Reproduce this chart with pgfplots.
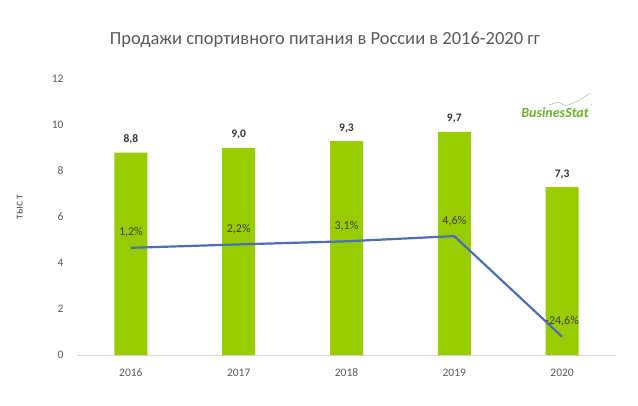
\documentclass[border=0pt]{standalone}
\usepackage{pgfplots}
\pgfplotsset{compat=1.18}
\usepackage{fontspec}
\setmainfont{Carlito}
\definecolor{bargreen}{HTML}{99CC00}
\definecolor{lineblue}{HTML}{4A6FB5}
\definecolor{txtgray}{HTML}{595959}
\definecolor{axgray}{HTML}{D9D9D9}
\definecolor{logogreen}{HTML}{6EB02E}
\begin{document}
\begin{tikzpicture}
\useasboundingbox (-77bp,-51bp) rectangle (561bp,355bp);
\pgfplotsset{base/.style={scale only axis, width=539bp, height=276bp,
  xmin=-0.5, xmax=4.5, /pgf/number format/assume math mode=true}}
\begin{axis}[base,
  ymin=0, ymax=12, ytick={0,2,...,12},
  xtick={0,1,2,3,4}, xticklabels={2016,2017,2018,2019,2020},
  axis x line*=bottom, axis y line*=left,
  x axis line style={draw=axgray, line width=0.8bp, -},
  y axis line style={draw=none},
  major tick length=0pt,
  tick label style={font=\fontsize{11.5bp}{13bp}\selectfont, text=txtgray},
  yticklabel style={xshift=-10bp},
  xticklabel style={yshift=-10bp, text height=8bp, text depth=0bp},
  title={Продажи спортивного питания в России в 2016-2020 гг},
  title style={at={(rel axis cs:0.46,1.12)}, anchor=center,
    font=\fontsize{18.5bp}{21bp}\selectfont, text=txtgray},
  ylabel={тыс т},
  every axis y label/.style={at={(rel axis cs:-0.106,0.536)}, rotate=90, anchor=center,
    font=\fontsize{12bp}{14bp}\selectfont, text=txtgray},
]
\addplot[ybar, bar width=33bp, fill=bargreen, draw=none,
  nodes near coords={\pgfmathprintnumber[fixed,fixed zerofill,precision=1,use comma]{\pgfplotspointmeta}},
  nodes near coords style={font=\fontsize{11.5bp}{13bp}\selectfont\bfseries, text=black!80, yshift=5bp}]
  coordinates {(0,8.8) (1,9.0) (2,9.3) (3,9.7) (4,7.3)};
\end{axis}
\begin{axis}[base, ymin=-29.9, ymax=50.2, hide axis]
\addplot[lineblue, line width=2.2bp, mark=none,
  nodes near coords={\pgfmathprintnumber[fixed,fixed zerofill,precision=1,use comma]{\pgfplotspointmeta}\%},
  nodes near coords align={anchor=south},
  nodes near coords style={font=\fontsize{12bp}{14bp}\selectfont, text=black!75, yshift=6bp}]
  coordinates {(0,1.2) (1,2.2) (2,3.1) (3,4.6) (4,-24.6)};
\end{axis}
\node[font=\fontsize{14bp}{16bp}\selectfont\bfseries\itshape, text=logogreen, inner sep=0pt] at (478bp,242bp) {BusinesStat};
\draw[gray!60, line width=0.5bp] (472bp,250bp) -- (481bp,253bp) -- (489bp,249bp) -- (503bp,255bp) -- (513bp,262bp);
\node[font=\fontsize{4bp}{5bp}\selectfont, text=gray, inner sep=0pt] at (515bp,249bp) {®};
\end{tikzpicture}
\end{document}
